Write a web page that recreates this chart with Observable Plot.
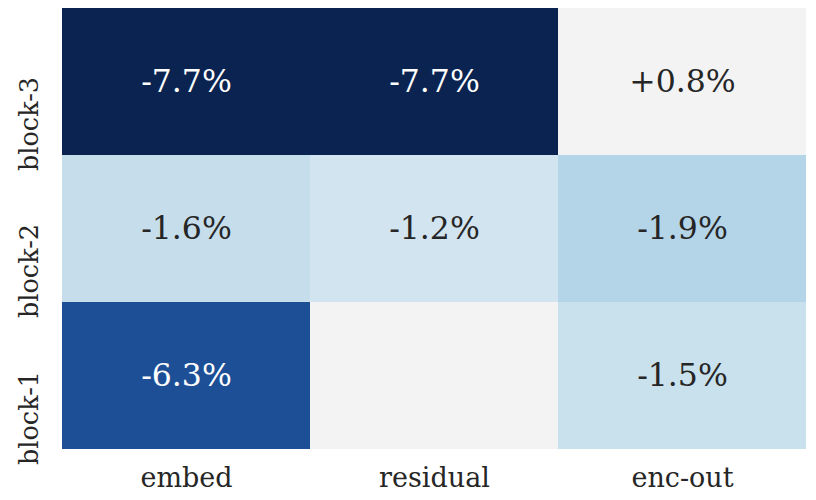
<!DOCTYPE html>
<html>
<head>
<meta charset="utf-8">
<script src="https://cdn.jsdelivr.net/npm/d3@7"></script>
<script src="https://cdn.jsdelivr.net/npm/@observablehq/plot@0.6"></script>
<style>
  body { margin: 0; background: #fff; }
  #chart svg { display: block; }
</style>
</head>
<body>
<div id="chart"></div>
<script>
const columns = ["embed", "residual", "enc-out"];
const rowsOrder = ["block-3", "block-2", "block-1"];
const block3 = [-7.7, -7.7, 0.8];
const block2 = [-1.6, -1.2, -1.9];
const block1 = [-6.3, null, -1.5];
const colorStops = [-7.7, -6.3, -1.9, -1.6, -1.2, 0];
const colorRange = ["#0a2350", "#1c4f96", "#b4d4e8", "#c6deec", "#d2e4f0", "#f3f3f3"];

const rowValues = {"block-3": block3, "block-2": block2, "block-1": block1};
const data = [];
for (const r of rowsOrder) {
  columns.forEach((c, i) => data.push({row: r, col: c, v: rowValues[r][i]}));
}
const fmt = v => v == null ? "" : (v > 0 ? "+" : "") + v.toFixed(1) + "%";

const font = "'DejaVu Serif', serif";
const chart = Plot.plot({
  width: 816,
  height: 500,
  marginLeft: 62,
  marginRight: 10,
  marginTop: 7,
  marginBottom: 50,
  style: {fontFamily: font, background: "#fff"},
  x: {domain: columns, padding: 0, label: null},
  y: {domain: rowsOrder, padding: 0, label: null, axis: null},
  color: {type: "linear", domain: colorStops, range: colorRange, clamp: true},
  marks: [
    Plot.cell(data, {x: "col", y: "row", fill: "#f3f3f3"}),
    Plot.cell(data.filter(d => d.v != null), {x: "col", y: "row", fill: "v"}),
    Plot.text(data, {x: "col", y: "row", text: d => fmt(d.v), fontSize: 31.5,
      fill: d => d.v != null && d.v <= -5 ? "#ffffff" : "#262626"}),
    Plot.axisX({tickSize: 0, tickPadding: 17, fontSize: 27, color: "#262626", label: null}),
    Plot.text(rowsOrder, {y: d => d, frameAnchor: "left", rotate: -90, textAnchor: "end",
      lineAnchor: "middle", dx: -33, dy: -5, fontSize: 25.5, fill: "#262626"})
  ]
});
document.getElementById("chart").append(chart);
</script>
</body>
</html>
